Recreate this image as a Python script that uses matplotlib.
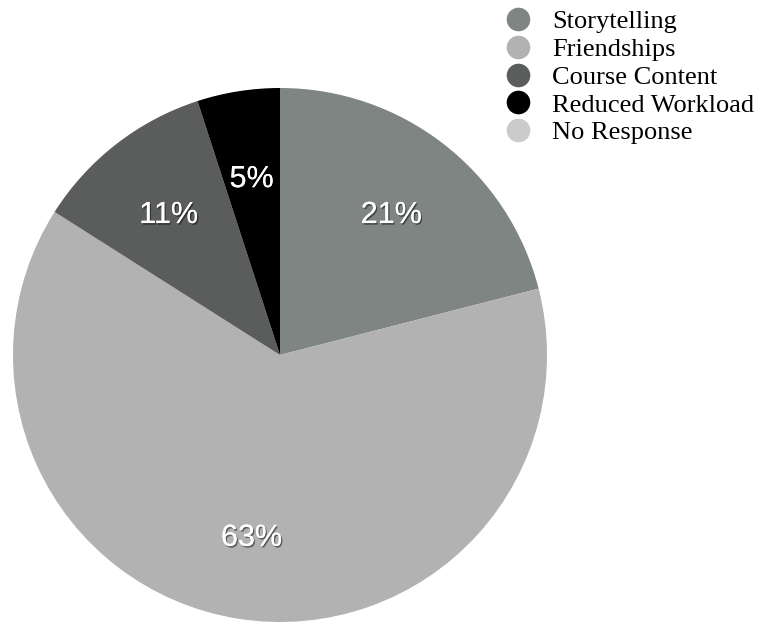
import matplotlib.pyplot as plt
import matplotlib.patheffects as pe
from matplotlib.lines import Line2D

labels = ['Storytelling', 'Friendships', 'Course Content', 'Reduced Workload', 'No Response']
shares = [21, 63, 11, 5, 0]
colors = ['#7f8582', '#b2b2b2', '#5a5d5b', '#000000', '#cbcbcb']

fig = plt.figure(figsize=(7.6, 6.24), dpi=100)
ax = fig.add_axes([(280 - 267) / 760, (624 - 355 - 267) / 624, 534 / 760, 534 / 624])

shadow = [pe.withSimplePatchShadow(offset=(1, -1.2), shadow_rgbFace='black', alpha=0.45),
          pe.Normal()]

wedges, texts, autotexts = ax.pie(
    shares, colors=colors, startangle=90, counterclock=False,
    autopct=lambda p: '%d%%' % round(p) if p > 0 else '',
    pctdistance=0.68, wedgeprops=dict(linewidth=0),
    textprops=dict(color='white', fontsize=22, family='Liberation Sans'))
for t in autotexts:
    t.set_verticalalignment('center_baseline')
    t.set_path_effects(shadow)
ax.set_xlim(-1, 1)
ax.set_ylim(-1, 1)
ax.set_aspect('equal')

handles = [Line2D([], [], marker='o', linestyle='none', markersize=17,
                  markerfacecolor=c, markeredgecolor='none') for c in colors]
fig.legend(handles, labels, loc='upper left', bbox_to_anchor=(505 / 760, 1 - 10 / 624),
           frameon=False, borderpad=0, borderaxespad=0, labelspacing=0.16,
           handlelength=1.0, handletextpad=0.8,
           prop=dict(family='Liberation Serif', size=19))

fig.savefig('out.png', dpi=100)
